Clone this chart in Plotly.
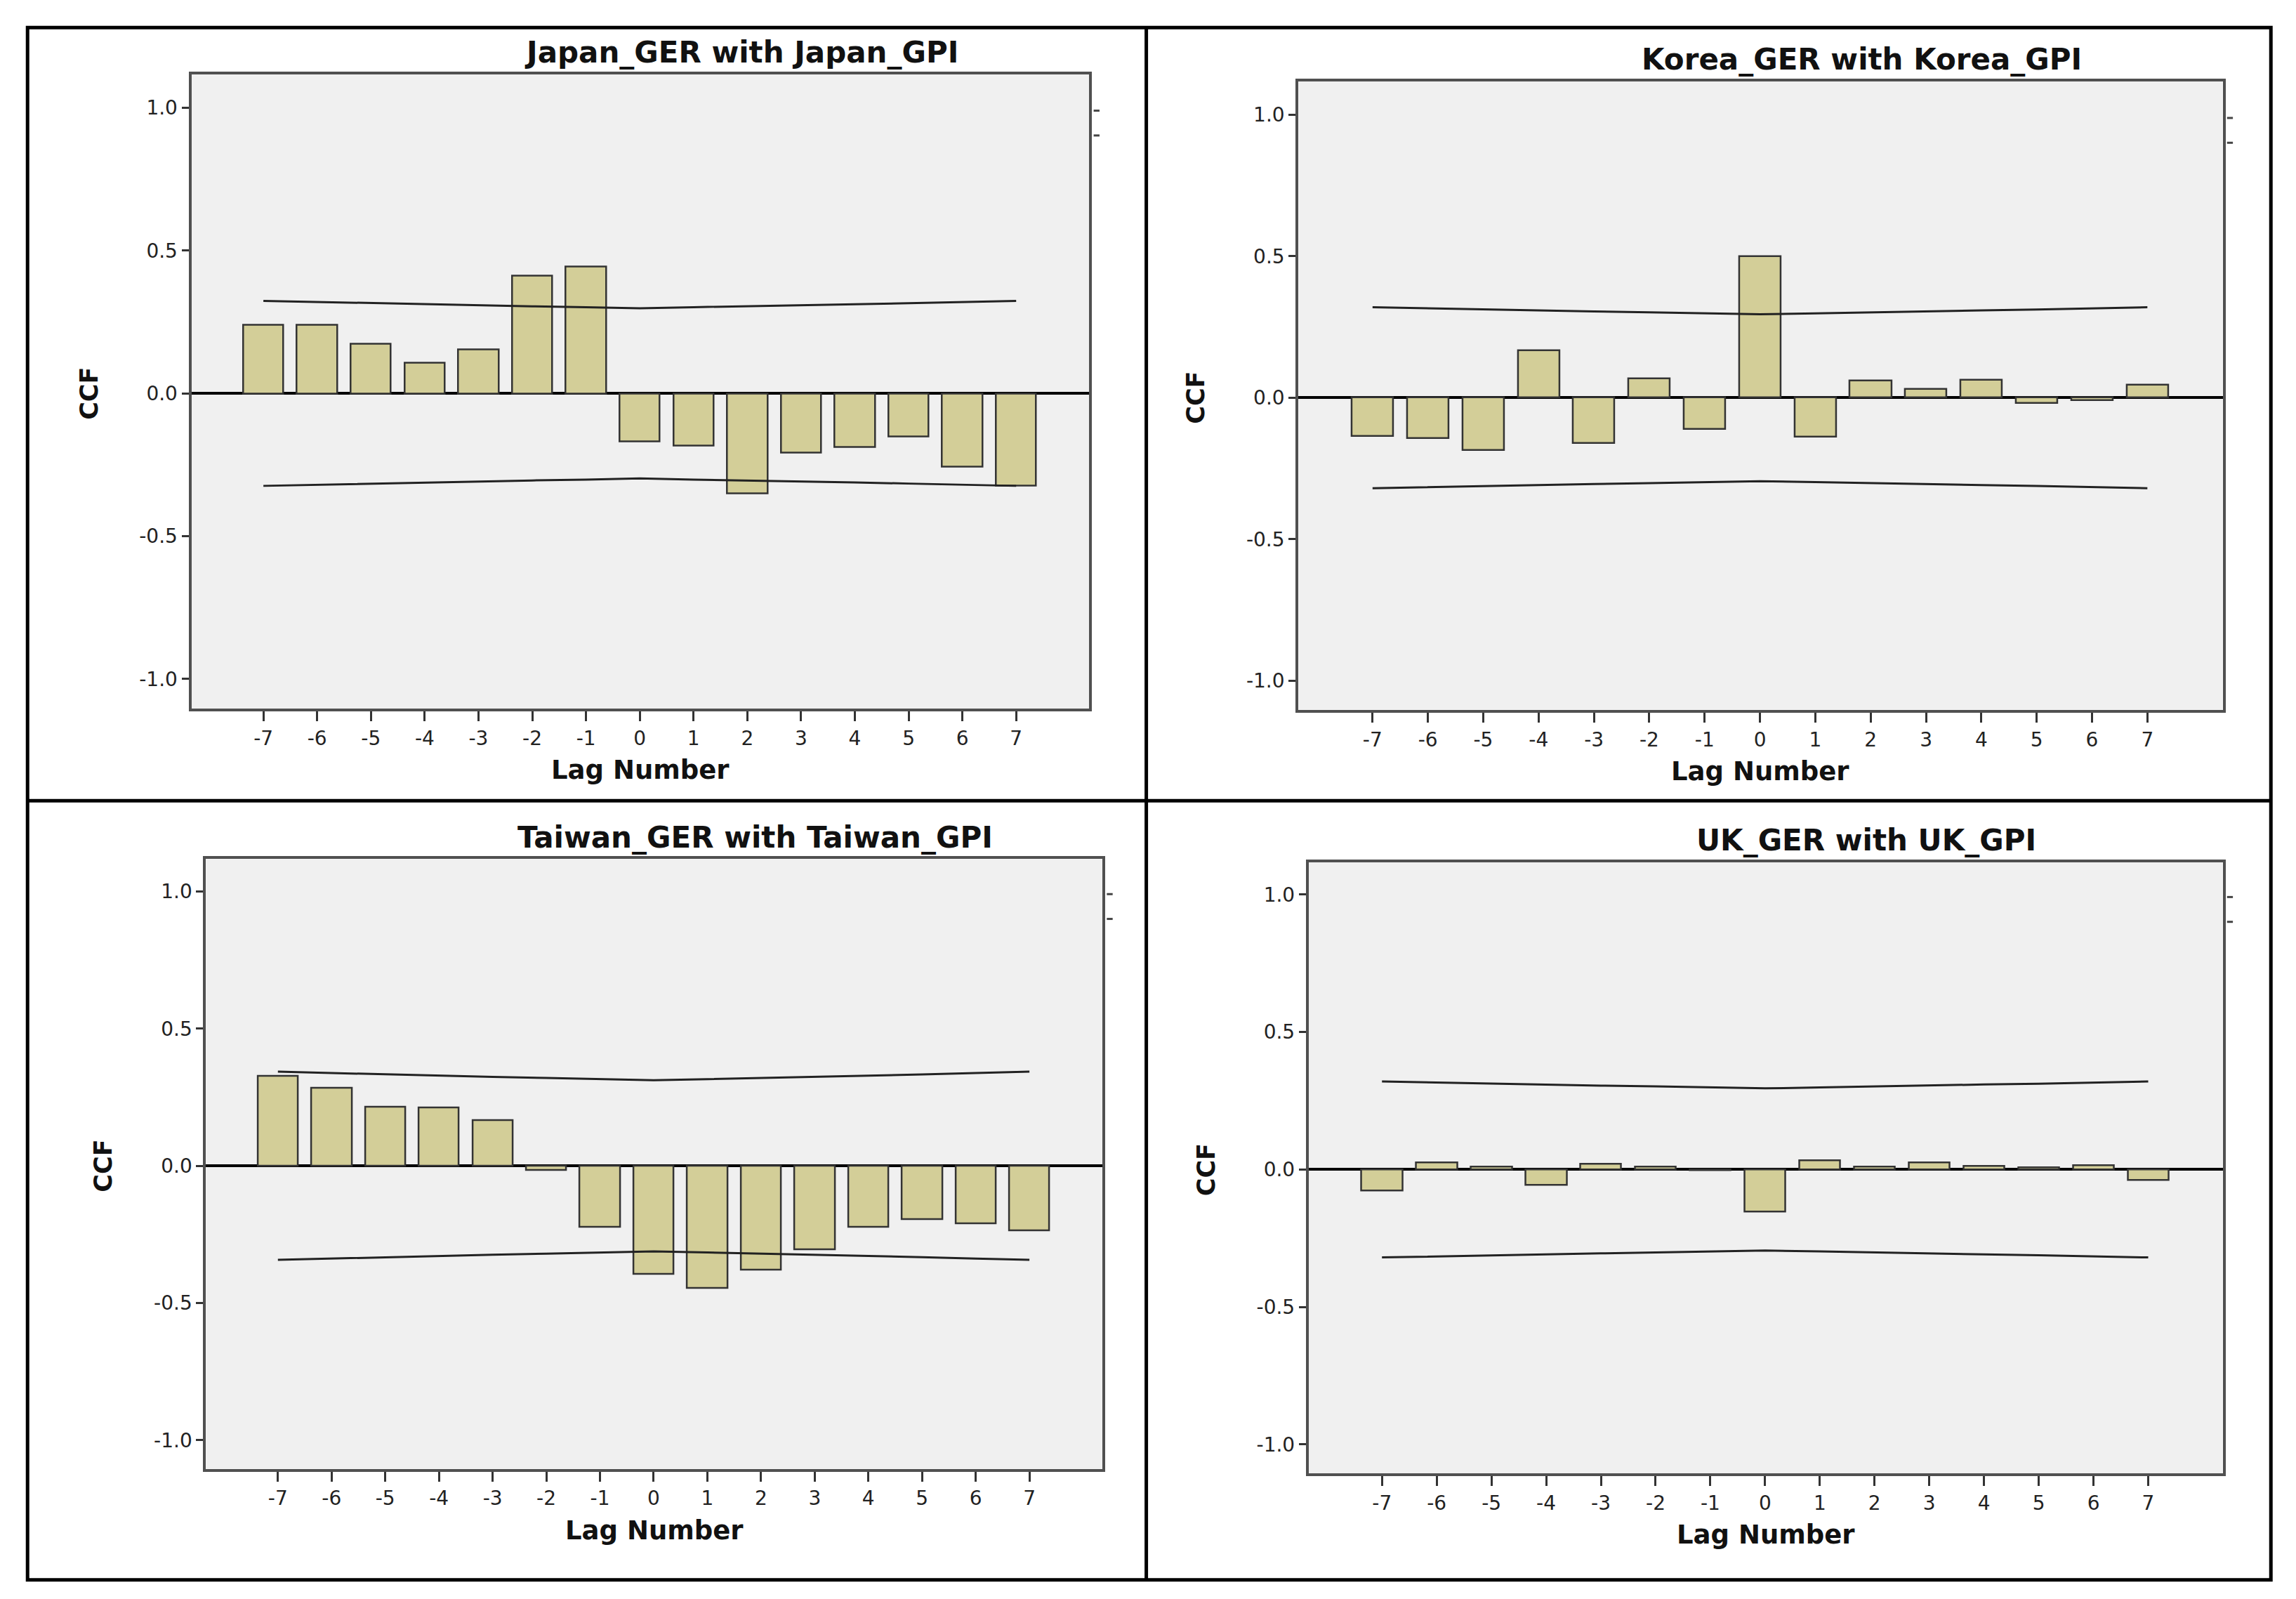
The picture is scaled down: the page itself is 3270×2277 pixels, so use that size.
import plotly.graph_objects as go

# ---------------- data ----------------
lags = [-7, -6, -5, -4, -3, -2, -1, 0, 1, 2, 3, 4, 5, 6, 7]
lag_labels = ["-7", "-6", "-5", "-4", "-3", "-2", "-1", "0", "1", "2", "3", "4", "5", "6", "7"]
y_tick_vals = [-1.0, -0.5, 0.0, 0.5, 1.0]
y_tick_text = ["-1.0", "-0.5", "0.0", "0.5", "1.0"]

titles = ["Japan_GER with Japan_GPI", "Korea_GER with Korea_GPI",
          "Taiwan_GER with Taiwan_GPI", "UK_GER with UK_GPI"]

japan_ccf = [0.240, 0.240, 0.173, 0.108, 0.153, 0.413, 0.445,
             -0.168, -0.184, -0.351, -0.207, -0.189, -0.151, -0.256, -0.323]
korea_ccf = [-0.136, -0.143, -0.185, 0.168, -0.161, 0.069, -0.111,
             0.500, -0.139, 0.060, 0.031, 0.063, -0.018, -0.009, 0.045]
taiwan_ccf = [0.328, 0.283, 0.215, 0.213, 0.167, -0.017, -0.224,
              -0.396, -0.446, -0.380, -0.304, -0.224, -0.196, -0.211, -0.237]
uk_ccf = [-0.078, 0.026, 0.009, -0.056, 0.020, 0.009, -0.004,
          -0.154, 0.033, 0.009, 0.024, 0.011, 0.007, 0.015, -0.039]

japan_upper = [0.324, 0.320, 0.316, 0.312, 0.309, 0.305, 0.302, 0.298,
               0.302, 0.305, 0.309, 0.312, 0.316, 0.320, 0.324]
japan_lower = [-0.324, -0.320, -0.316, -0.312, -0.309, -0.305, -0.302, -0.298,
               -0.302, -0.305, -0.309, -0.312, -0.316, -0.320, -0.324]
korea_upper = [0.320, 0.316, 0.312, 0.309, 0.305, 0.302, 0.298, 0.295,
               0.298, 0.302, 0.305, 0.309, 0.312, 0.316, 0.320]
korea_lower = [-0.320, -0.316, -0.312, -0.309, -0.305, -0.302, -0.298, -0.295,
               -0.298, -0.302, -0.305, -0.309, -0.312, -0.316, -0.320]
taiwan_upper = [0.343, 0.338, 0.333, 0.328, 0.324, 0.320, 0.316, 0.312,
                0.316, 0.320, 0.324, 0.328, 0.333, 0.338, 0.343]
taiwan_lower = [-0.343, -0.338, -0.333, -0.328, -0.324, -0.320, -0.316, -0.312,
                -0.316, -0.320, -0.324, -0.328, -0.333, -0.338, -0.343]
uk_upper = [0.320, 0.316, 0.312, 0.309, 0.305, 0.302, 0.298, 0.295,
            0.298, 0.302, 0.305, 0.309, 0.312, 0.316, 0.320]
uk_lower = [-0.320, -0.316, -0.312, -0.309, -0.305, -0.302, -0.298, -0.295,
            -0.298, -0.302, -0.305, -0.309, -0.312, -0.316, -0.320]

ccf_series = [japan_ccf, korea_ccf, taiwan_ccf, uk_ccf]
upper_series = [japan_upper, korea_upper, taiwan_upper, uk_upper]
lower_series = [japan_lower, korea_lower, taiwan_lower, uk_lower]

# ---------------- layout geometry (reference px at preview scale) ----------------
REF_W, REF_H = 1570.0, 1096.0
W, H = 3270, 2277

def fx(x):
    return x / REF_W

def fy(y):
    return 1 - y / REF_H

# plot boxes: left, right, top, bottom
boxes = [(127, 741, 47, 482), (884, 1516, 52, 483),
         (137, 750, 585, 1003), (891, 1516, 587, 1006)]

BAR_FILL = "#D3CE98"
BAR_EDGE = "#333333"
PLOT_BG = "#F0F0F0"
AXIS_COL = "#505050"
TXT = "#111111"
FONT = "DejaVu Sans"

fig = go.Figure()

for i in range(4):
    n = "" if i == 0 else str(i + 1)
    xa, ya = "x" + n, "y" + n
    fig.add_trace(go.Bar(x=lags, y=ccf_series[i], width=0.75,
                         marker=dict(color=BAR_FILL, line=dict(color=BAR_EDGE, width=2.5)),
                         xaxis=xa, yaxis=ya, showlegend=False))
    for lim in (upper_series[i], lower_series[i]):
        fig.add_trace(go.Scatter(x=lags, y=lim, mode="lines",
                                 line=dict(color="#222222", width=3),
                                 xaxis=xa, yaxis=ya, showlegend=False))
    l, r, t, b = boxes[i]
    axis_common = dict(showline=True, mirror=True, linecolor=AXIS_COL, linewidth=4,
                       showgrid=False, ticks="outside", tickcolor="#333333",
                       tickfont=dict(family=FONT, size=28, color="#222222"))
    fig.layout["xaxis" + n] = dict(domain=[fx(l), fx(r)], range=[-8.34, 8.36],
                                   tickvals=lags, ticktext=lag_labels,
                                   ticklen=14, tickwidth=3,
                                   zeroline=False, anchor=ya, **axis_common)
    fig.layout["yaxis" + n] = dict(domain=[fy(b), fy(t)], range=[-1.105, 1.118],
                                   tickvals=y_tick_vals, ticktext=y_tick_text,
                                   ticklen=10, tickwidth=3,
                                   zeroline=True, zerolinecolor="#000000", zerolinewidth=4,
                                   anchor=xa, **axis_common)
    # panel title
    fig.add_annotation(text=titles[i], xref="paper", yref="paper",
                       x=fx((l + r) / 2 + 69), y=fy(t - 15), showarrow=False,
                       font=dict(family=FONT, size=42, color=TXT, weight="bold"),
                       xanchor="center", yanchor="middle")
    # x-axis title
    fig.add_annotation(text="Lag Number", xref="paper", yref="paper",
                       x=fx((l + r) / 2), y=fy(b + 42), showarrow=False,
                       font=dict(family=FONT, size=37, color=TXT, weight="bold"),
                       xanchor="center", yanchor="middle")
    # y-axis title
    fig.add_annotation(text="CCF", xref="paper", yref=ya,
                       x=fx(l - 70), y=0, showarrow=False, textangle=-90,
                       font=dict(family=FONT, size=35, color=TXT, weight="bold"),
                       xanchor="center", yanchor="middle")
    # small legend dashes right of plot
    for dy in (2, 19):
        yy = (t + 23 + dy) if i < 2 else (t + 22 + dy)
        fig.add_shape(type="line", xref="paper", yref="paper",
                      x0=fx(r + 3), x1=fx(r + 7), y0=fy(yy), y1=fy(yy),
                      line=dict(color="#444444", width=3))

# panel frames
frame = dict(color="#000000", width=5)
fig.add_shape(type="rect", xref="paper", yref="paper",
              x0=fx(15), x1=fx(1549), y0=fy(1079), y1=fy(15), line=frame)
fig.add_shape(type="line", xref="paper", yref="paper",
              x0=fx(780), x1=fx(780), y0=fy(1079), y1=fy(15), line=frame)
fig.add_shape(type="line", xref="paper", yref="paper",
              x0=fx(15), x1=fx(1549), y0=fy(545), y1=fy(545), line=frame)

fig.update_layout(width=W, height=H, margin=dict(l=0, r=0, t=0, b=0),
                  paper_bgcolor="white", plot_bgcolor=PLOT_BG,
                  bargap=0, showlegend=False)

fig.write_html("out.html")
